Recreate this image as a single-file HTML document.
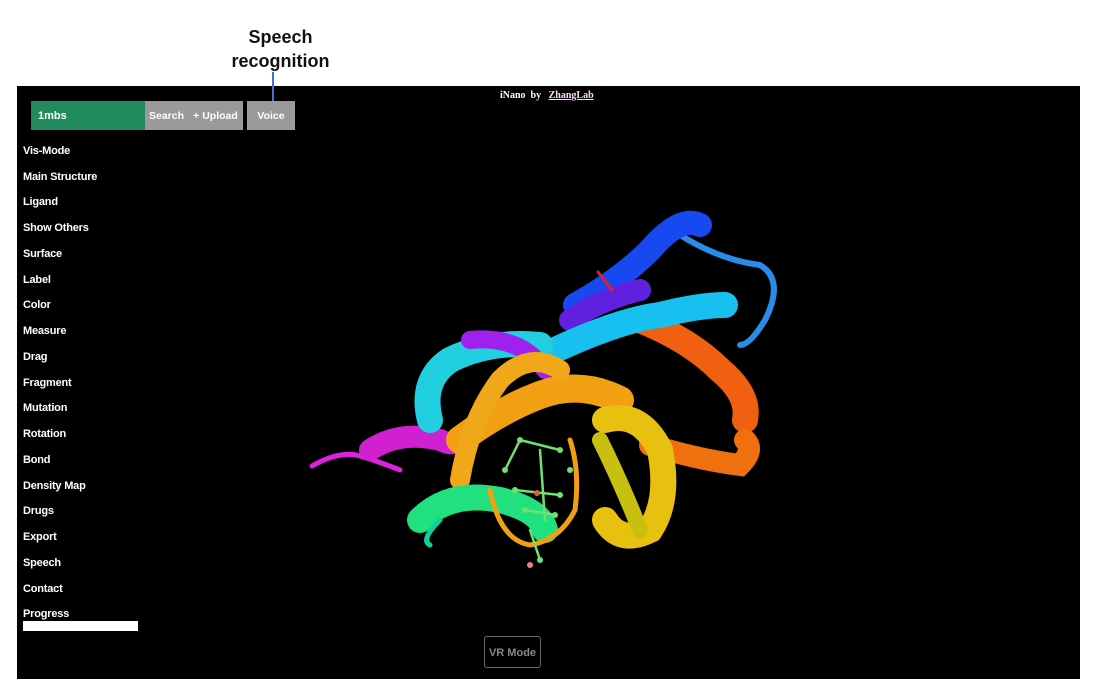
<!DOCTYPE html>
<html><head><meta charset="utf-8"><style>
body{margin:0;width:1099px;height:697px;background:#fff;position:relative;overflow:hidden;font-family:"Liberation Sans",sans-serif}
.cap{position:absolute;left:218px;top:25px;width:125px;text-align:center;font-size:18px;font-weight:bold;line-height:24px;color:#111}
.pin{position:absolute;left:272px;top:72px;width:2px;height:29px;background:#4472c4;z-index:5}
.panel{position:absolute;left:17px;top:86px;width:1063px;height:593px;background:#000}
.inp{position:absolute;left:31px;top:101px;width:114px;height:29px;background:#208a5c;color:#fff;font-size:11px;font-weight:bold;line-height:31px;padding-left:7px;box-sizing:border-box}
.btn{position:absolute;top:101px;height:29px;background:#9a9a9a;color:#fff;font-size:10.5px;font-weight:bold;line-height:31px;text-align:center}
.menu{position:absolute;left:23px;color:#fff;font-size:11px;font-weight:bold;letter-spacing:-0.2px}
.title{position:absolute;left:500px;top:90px;color:#fff;font-family:"Liberation Serif",serif;font-size:10px;font-weight:bold}
.prog{position:absolute;left:23px;top:621px;width:115px;height:10px;background:#fff}
.vr{position:absolute;left:484px;top:636px;width:55px;height:30px;border:1px solid #666;border-radius:3px;color:#888;font-size:11px;font-weight:bold;line-height:32px;text-align:center}
</style></head><body>
<div class="cap">Speech<br>recognition</div>
<div class="panel">
<svg width="1063" height="593" style="position:absolute;left:0;top:0">
<g transform="translate(-17,-86)" fill="none" stroke-linecap="round">
<path d="M312,466 Q340,450 360,456 T400,470" stroke="#e020e0" stroke-width="5"/>
<path d="M370,450 Q400,430 440,440 Q460,450 470,430" stroke="#d020d0" stroke-width="22"/>
<path d="M680,235 Q720,260 760,265 Q785,280 765,320 Q750,345 740,345" stroke="#2a8ce8" stroke-width="6"/>
<path d="M575,305 Q620,280 650,250 Q680,215 700,225" stroke="#1848f0" stroke-width="24"/>
<path d="M570,320 Q600,300 640,290" stroke="#6020e0" stroke-width="22"/>
<path d="M640,320 Q690,340 720,370 Q750,395 745,420" stroke="#f06010" stroke-width="26"/>
<path d="M555,350 Q620,320 660,315 Q700,305 725,305" stroke="#18c0f0" stroke-width="26"/>
<path d="M430,420 Q420,380 450,360 Q490,340 540,345" stroke="#20d0e0" stroke-width="26"/>
<path d="M470,340 Q520,335 545,370" stroke="#a020f0" stroke-width="18"/>
<path d="M650,445 Q700,460 740,465 Q755,450 745,440" stroke="#f07010" stroke-width="22"/>
<path d="M460,440 Q500,410 540,395 Q580,380 620,400" stroke="#f0a010" stroke-width="28"/>
<path d="M460,480 Q470,420 500,380 Q530,350 560,370" stroke="#f0a818" stroke-width="20"/>
<path d="M605,420 Q640,410 660,450 Q670,500 650,530 Q620,545 605,520" stroke="#e8c010" stroke-width="26"/>
<path d="M600,440 Q620,480 640,530" stroke="#c8c010" stroke-width="16"/>
<path d="M420,520 Q450,490 500,500 Q540,510 545,530" stroke="#20e080" stroke-width="26"/>
<path d="M490,490 Q500,540 530,545 Q560,540 575,510 Q580,470 570,440" stroke="#f0a010" stroke-width="5"/>
<path d="M440,520 Q420,540 430,545" stroke="#10d0a0" stroke-width="5"/>
<path d="M505,470 L520,440 M520,440 L560,450 M540,450 L545,520 M515,490 L560,495 M525,510 L555,515 M530,530 L540,560" stroke="#70e070" stroke-width="2.5"/>
<g fill="#70e070"><circle cx="520" cy="440" r="3"/><circle cx="560" cy="450" r="3"/><circle cx="515" cy="490" r="3"/><circle cx="560" cy="495" r="3"/><circle cx="525" cy="510" r="3"/><circle cx="555" cy="515" r="3"/><circle cx="540" cy="560" r="3"/><circle cx="505" cy="470" r="3"/><circle cx="570" cy="470" r="3"/></g>
<circle cx="537" cy="493" r="3" fill="#e06030"/><circle cx="530" cy="565" r="3" fill="#f08080"/>
<path d="M598,272 L612,290" stroke="#e02020" stroke-width="3"/>
</g></svg>
</div>
<div class="pin"></div>
<div class="title">iNano &nbsp;by &nbsp;&nbsp;<u style="color:#ffd8ff">ZhangLab</u></div>
<div class="inp">1mbs</div>
<div class="btn" style="left:145px;width:43px">Search</div>
<div class="btn" style="left:188px;width:55px">+ Upload</div>
<div class="btn" style="left:247px;width:48px">Voice</div>
<div class="menu" style="top:145px">Vis-Mode</div>
<div class="menu" style="top:171px">Main Structure</div>
<div class="menu" style="top:196px">Ligand</div>
<div class="menu" style="top:222px">Show Others</div>
<div class="menu" style="top:248px">Surface</div>
<div class="menu" style="top:274px">Label</div>
<div class="menu" style="top:299px">Color</div>
<div class="menu" style="top:325px">Measure</div>
<div class="menu" style="top:351px">Drag</div>
<div class="menu" style="top:377px">Fragment</div>
<div class="menu" style="top:402px">Mutation</div>
<div class="menu" style="top:428px">Rotation</div>
<div class="menu" style="top:454px">Bond</div>
<div class="menu" style="top:480px">Density Map</div>
<div class="menu" style="top:505px">Drugs</div>
<div class="menu" style="top:531px">Export</div>
<div class="menu" style="top:557px">Speech</div>
<div class="menu" style="top:583px">Contact</div>
<div class="menu" style="top:608px">Progress</div>
<div class="prog"></div>
<div class="vr">VR Mode</div>
</body></html>
